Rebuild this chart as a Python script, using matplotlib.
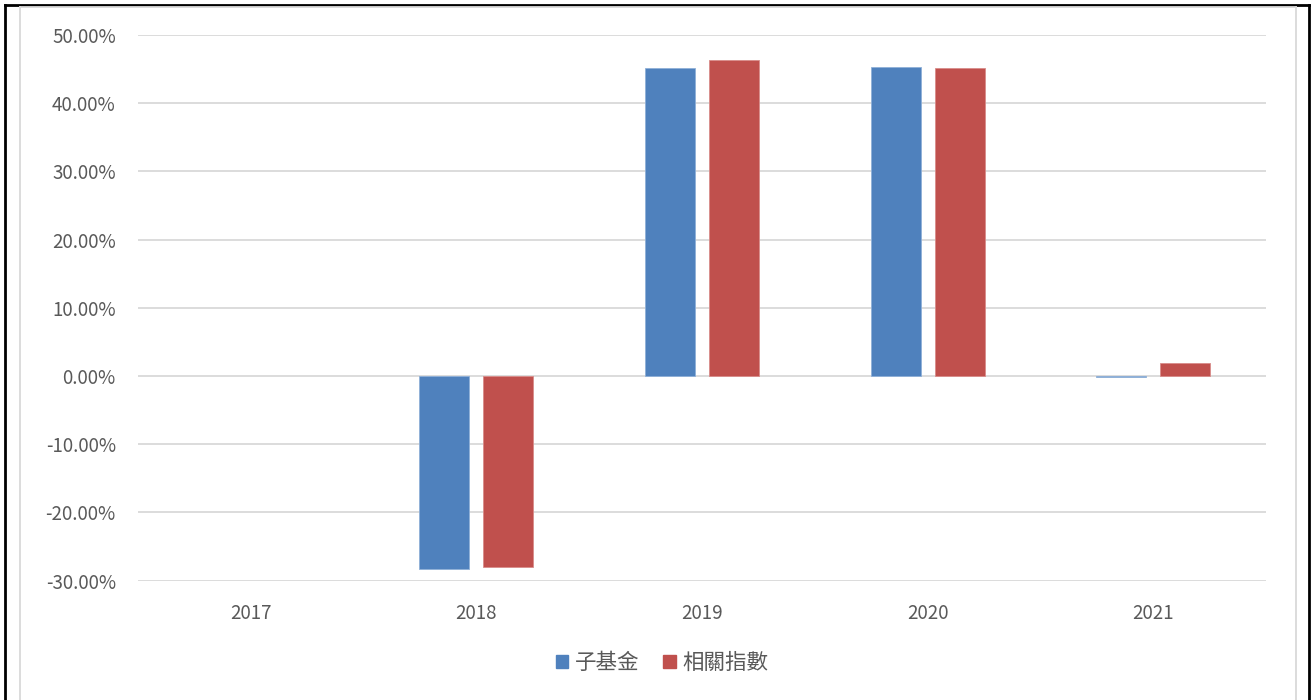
import matplotlib.pyplot as plt
import matplotlib.patches as mpatches
from matplotlib.lines import Line2D
import numpy as np

plt.rcParams['font.family'] = ['Noto Sans CJK TC', 'DejaVu Sans']

# 數據 (2017 無數據)
years = ["2017", "2018", "2019", "2020", "2021"]
fund = [np.nan, -28.35, 45.1, 45.35, -0.15]      # 子基金 (%)
index = [np.nan, -27.96, 46.4, 45.1, 1.86]       # 相關指數 (%)
series_names = ["子基金", "相關指數"]
colors = ["#4F81BD", "#C0504D"]
yticks = [-30, -20, -10, 0, 10, 20, 30, 40, 50]

fig = plt.figure(figsize=(13.12, 7), dpi=100)
ax = fig.add_axes([138/1312, 1 - 580.6/700, (1266-138)/1312, (580.6-35)/700])

x = np.arange(len(years))
w = 0.222
off = 0.142
ax.bar(x - off, fund, w, color=colors[0], edgecolor="#8FB0D8", linewidth=0.6, zorder=3, label=series_names[0])
ax.bar(x + off, index, w, color=colors[1], edgecolor="#D98C8A", linewidth=0.6, zorder=3, label=series_names[1])

ax.set_xlim(-0.5, len(years) - 0.5)
ax.set_ylim(-30, 50)
ax.set_yticks(yticks)
ax.set_yticklabels([f"{v:.2f}%" for v in yticks])
ax.set_xticks(x)
ax.set_xticklabels(years)
ax.tick_params(axis='both', length=0, labelsize=13.5, labelcolor="#595959")
ax.tick_params(axis='y', pad=16)
ax.tick_params(axis='x', pad=16)
ax.grid(axis='y', color="#D9D9D9", linewidth=1.3, zorder=0)
for s in ax.spines.values():
    s.set_visible(False)

# 圖例
handles = [mpatches.Patch(color=c) for c in colors]
fig.legend(handles, series_names, loc='center', bbox_to_anchor=(662/1312, 1 - 663/700),
           ncol=2, frameon=False, fontsize=15.5, labelcolor="#595959",
           handlelength=0.6, handleheight=0.6, handletextpad=0.3, columnspacing=1.1)

# 外框
fig.add_artist(Line2D([5/1312, 5/1312], [0, 1 - 5/700], color="black", linewidth=2, transform=fig.transFigure))
fig.add_artist(Line2D([5/1312, 1309/1312], [1 - 5/700, 1 - 5/700], color="black", linewidth=2, transform=fig.transFigure))
fig.add_artist(Line2D([1309/1312, 1309/1312], [0, 1 - 5/700], color="black", linewidth=2, transform=fig.transFigure))
fig.add_artist(Line2D([20/1312, 20/1312], [0, 1 - 7/700], color="#D9D9D9", linewidth=1.3, transform=fig.transFigure))
fig.add_artist(Line2D([20/1312, 1296/1312], [1 - 7/700, 1 - 7/700], color="#D9D9D9", linewidth=1.3, transform=fig.transFigure))
fig.add_artist(Line2D([1296/1312, 1296/1312], [0, 1 - 7/700], color="#D9D9D9", linewidth=1.3, transform=fig.transFigure))

fig.savefig("out.png", dpi=100)
